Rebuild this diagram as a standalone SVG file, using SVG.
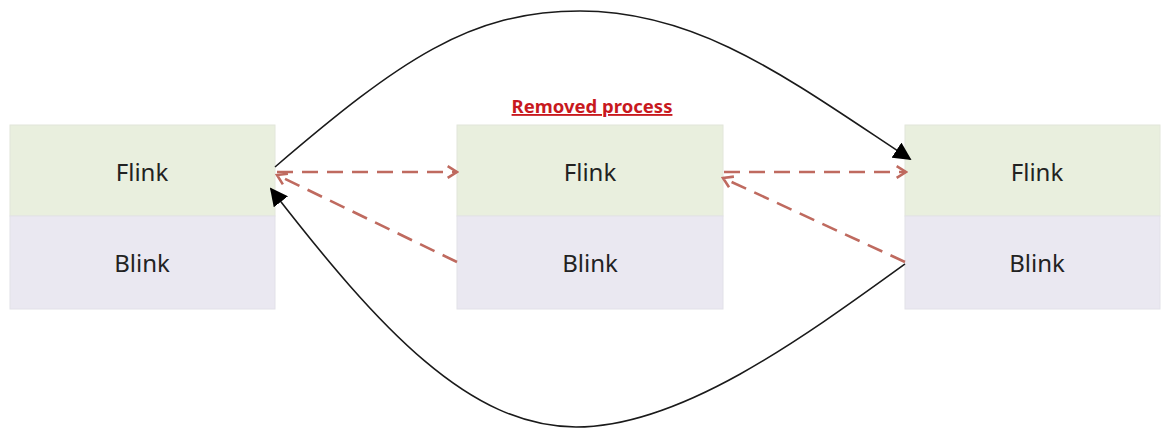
<svg xmlns="http://www.w3.org/2000/svg" width="1164" height="428" viewBox="0 0 1164 428">
<defs>
<style>
.fl{fill:#e9efde;stroke:#e2e6da;stroke-width:1}
.bl{fill:#eae8f1;stroke:#e2e1e8;stroke-width:1}
.t{font-family:"Noto Sans","Open Sans",sans-serif;font-size:24px;fill:#222;text-anchor:middle}
.title{font-family:"Noto Sans","Liberation Sans",sans-serif;font-size:18.5px;font-weight:bold;fill:#c8191e;text-anchor:middle;text-decoration:underline}
.solid{fill:none;stroke:#1a1a1a;stroke-width:1.6}
.dash{fill:none;stroke:#bf6a5f;stroke-width:2.6;stroke-dasharray:16 9}
</style>
<marker id="ah" viewBox="0 0 10 10" refX="9" refY="5" markerWidth="18" markerHeight="18" markerUnits="userSpaceOnUse" orient="auto">
<path d="M0,0 L10,5 L0,10 z" fill="#000"/>
</marker>
<marker id="oh" viewBox="0 0 12 12" refX="10" refY="6" markerWidth="14" markerHeight="14" markerUnits="userSpaceOnUse" orient="auto">
<path d="M2,1 L10,6 L2,11" fill="none" stroke="#bf6a5f" stroke-width="2.2"/>
</marker>
</defs>
<rect width="1164" height="428" fill="#fff"/>
<g id="node-left">
<rect class="fl" x="10" y="125" width="265" height="91"/>
<rect class="bl" x="10" y="216" width="265" height="93"/>
<text class="t" x="142" y="181">Flink</text>
<text class="t" x="142" y="272">Blink</text>
</g>
<g id="node-middle">
<text class="title" x="592" y="113">Removed process</text>
<rect class="fl" x="457" y="125" width="266" height="91"/>
<rect class="bl" x="457" y="216" width="266" height="93"/>
<text class="t" x="590" y="181">Flink</text>
<text class="t" x="590" y="272">Blink</text>
</g>
<g id="node-right">
<rect class="fl" x="905" y="125" width="255" height="91"/>
<rect class="bl" x="905" y="216" width="255" height="93"/>
<text class="t" x="1037" y="181">Flink</text>
<text class="t" x="1037" y="272">Blink</text>
</g>
<g id="connectors">
<path class="solid" d="M275,167 C400,60 470,11 580,11 C700,11 790,80 910,159" marker-end="url(#ah)"/>
<path class="solid" d="M905,264 C800,340 680,427 576,427 C470,427 380,330 271,189" marker-end="url(#ah)"/>
<path class="dash" d="M277,172 L457,172" marker-end="url(#oh)"/>
<path class="dash" d="M457,262 L277,175" marker-end="url(#oh)"/>
<path class="dash" d="M724,172 L906,172" marker-end="url(#oh)"/>
<path class="dash" d="M905,262 L723,178" marker-end="url(#oh)"/>
</g>
</svg>
